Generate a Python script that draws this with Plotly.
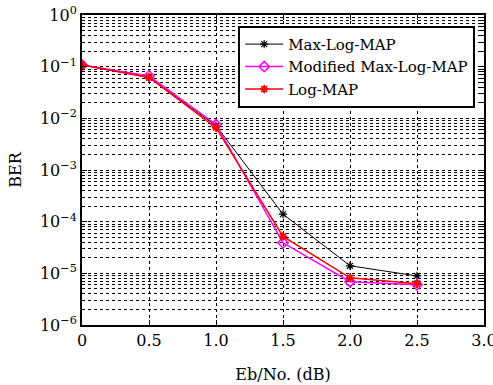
import plotly.graph_objects as go

ebno = [0, 0.5, 1.0, 1.5, 2.0, 2.5]
ber_maxlog = [0.108, 0.062, 0.0072, 1.4e-4, 1.4e-5, 8.9e-6]
ber_modified = [0.108, 0.066, 0.0076, 3.9e-5, 6.9e-6, 6.0e-6]
ber_logmap = [0.108, 0.062, 0.0066, 5.2e-5, 8.2e-6, 6.3e-6]

series_names = ["Max-Log-MAP", "Modified Max-Log-MAP", "Log-MAP"]

x_tickvals = [0, 0.5, 1.0, 1.5, 2.0, 2.5, 3.0]
x_ticktext = ["0", "0.5", "1.0", "1.5", "2.0", "2.5", "3.0"]
y_tickvals = [1, 1e-1, 1e-2, 1e-3, 1e-4, 1e-5, 1e-6]
y_ticktext = ["10<sup>0</sup>", "10<sup>\u22121</sup>", "10<sup>\u22122</sup>",
              "10<sup>\u22123</sup>", "10<sup>\u22124</sup>", "10<sup>\u22125</sup>",
              "10<sup>\u22126</sup>"]

FONT = "DejaVu Serif"
FS = 16

fig = go.Figure()
fig.add_trace(go.Scatter(
    x=ebno, y=ber_maxlog, name=series_names[0], mode="lines+markers",
    line=dict(color="black", width=1),
    marker=dict(symbol="asterisk-open", size=7, line=dict(color="black", width=1.2)),
))
fig.add_trace(go.Scatter(
    x=ebno, y=ber_modified, name=series_names[1], mode="lines+markers",
    line=dict(color="#ff00ff", width=1.5),
    marker=dict(symbol="diamond-open", size=8, color="#ff00ff", line=dict(color="#ff00ff", width=1.5)),
))
fig.add_trace(go.Scatter(
    x=ebno, y=ber_logmap, name=series_names[2], mode="lines+markers",
    line=dict(color="red", width=1.5),
    marker=dict(symbol="asterisk-open", size=7, line=dict(color="red", width=1.8)),
))

fig.update_layout(
    template="none",
    width=493, height=385,
    margin=dict(l=82, r=9, t=15, b=60, autoexpand=False),
    paper_bgcolor="white", plot_bgcolor="white",
    font=dict(family=FONT, size=FS, color="black"),
    showlegend=True,
    legend=dict(
        x=0.978, y=0.965, xanchor="right", yanchor="top",
        bgcolor="white", bordercolor="black", borderwidth=2,
        font=dict(family=FONT, size=15, color="black"), itemwidth=38, tracegroupgap=0,
    ),
)

fig.update_xaxes(
    range=[0, 3.0], tickvals=x_tickvals, ticktext=x_ticktext,
    showline=True, linecolor="black", linewidth=2, mirror="ticks",
    ticks="inside", ticklen=5, tickcolor="black",
    showgrid=True, gridcolor="black", griddash="dot", gridwidth=1,
    zeroline=False, ticklabeloverflow="allow",
    title=dict(text="Eb/No. (dB)", font=dict(family=FONT, size=FS, color="black"), standoff=20),
    tickfont=dict(family=FONT, size=FS, color="black"),
)
fig.update_yaxes(
    type="log", range=[-6, 0], tickvals=y_tickvals, ticktext=y_ticktext,
    showline=True, linecolor="black", linewidth=2, mirror="ticks",
    ticks="inside", ticklen=5, tickcolor="black",
    showgrid=True, gridcolor="black", griddash="dot", gridwidth=1,
    minor=dict(dtick="D1", ticks="inside", ticklen=3, tickcolor="black",
               showgrid=True, gridcolor="black", griddash="dot", gridwidth=1),
    zeroline=False, ticklabeloverflow="allow",
    title=dict(text="BER", font=dict(family=FONT, size=FS, color="black"), standoff=14),
    tickfont=dict(family=FONT, size=FS, color="black"),
)

fig.write_html("out.html")
